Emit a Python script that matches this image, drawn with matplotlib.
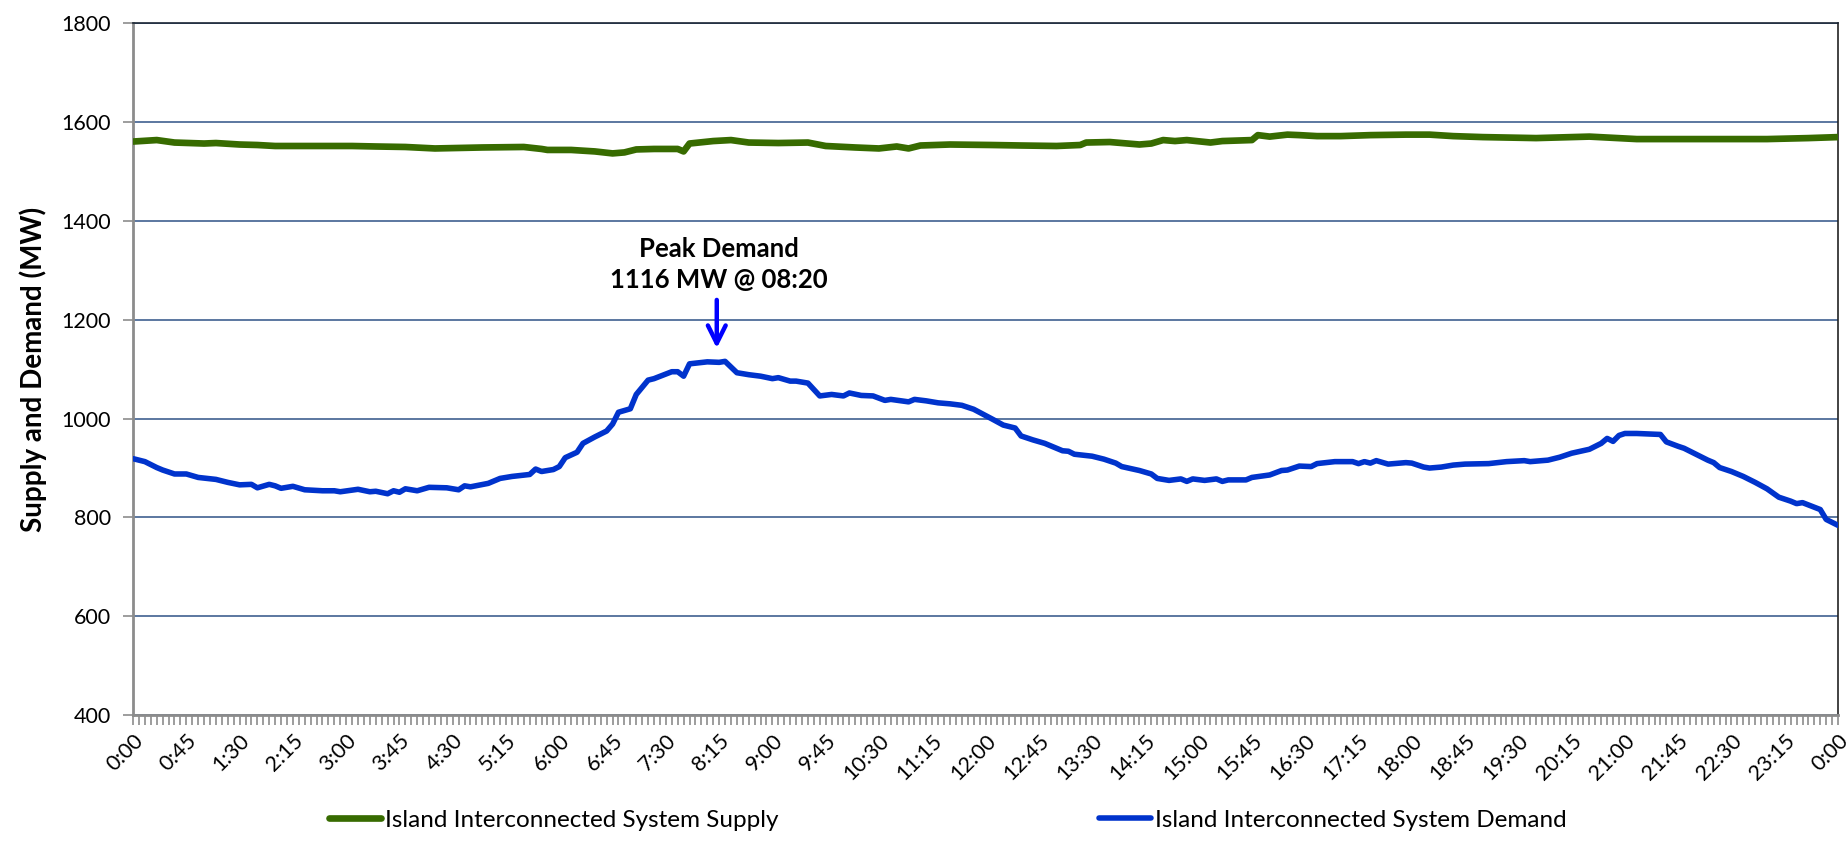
import matplotlib
matplotlib.use("Agg")
import matplotlib.pyplot as plt

plt.rcParams['font.family'] = ['Lato', 'DejaVu Sans']

# time of reading (H:MM) and MW
supply_times = ["0:00", "0:20", "0:35", "1:00", "1:10", "1:30", "1:45", "2:00", "3:05", "3:25",
                "3:50", "4:15", "4:55", "5:30", "5:45", "5:50", "6:10", "6:30", "6:45", "6:55",
                "7:05", "7:20", "7:40", "7:45", "7:50", "8:10", "8:25", "8:40", "9:05", "9:30",
                "9:45", "10:10", "10:30", "10:45", "10:55", "11:05", "11:30", "12:05", "12:30", "13:00",
                "13:20", "13:25", "13:45", "14:10", "14:20", "14:30", "14:40", "14:50", "15:10", "15:20",
                "15:45", "15:50", "16:00", "16:15", "16:25", "16:40", "17:00", "17:25", "17:55", "18:15",
                "18:35", "19:00", "19:45", "20:30", "21:10", "21:45", "22:25", "23:00", "23:35", "24:00"]
supply_mw = [1561, 1564, 1559, 1557, 1558, 1555, 1554, 1552, 1552, 1551,
             1550, 1547, 1549, 1550, 1546, 1544, 1544, 1541, 1537, 1539,
             1545, 1546, 1546, 1541, 1557, 1562, 1564, 1559, 1558, 1559,
             1552, 1549, 1547, 1551, 1547, 1553, 1555, 1554, 1553, 1552,
             1554, 1559, 1560, 1555, 1557, 1564, 1562, 1564, 1559, 1562,
             1564, 1574, 1571, 1575, 1574, 1572, 1572, 1574, 1575, 1575,
             1572, 1570, 1568, 1571, 1566, 1566, 1566, 1566, 1568, 1570]

demand_times = ["0:00", "0:10", "0:20", "0:25", "0:35", "0:45", "0:55", "1:10", "1:20", "1:30",
                "1:40", "1:45", "1:55", "2:00", "2:05", "2:15", "2:25", "2:40", "2:50", "2:55",
                "3:10", "3:20", "3:25", "3:35", "3:40", "3:45", "3:50", "4:00", "4:10", "4:25",
                "4:35", "4:40", "4:45", "5:00", "5:10", "5:20", "5:35", "5:40", "5:45", "5:55",
                "6:00", "6:05", "6:15", "6:20", "6:30", "6:40", "6:45", "6:50", "7:00", "7:05",
                "7:15", "7:20", "7:35", "7:40", "7:45", "7:50", "8:05", "8:15", "8:20", "8:30",
                "8:40", "8:50", "9:00", "9:05", "9:15", "9:20", "9:30", "9:40", "9:50", "10:00",
                "10:05", "10:15", "10:25", "10:35", "10:40", "10:55", "11:00", "11:10", "11:20", "11:30",
                "11:40", "11:50", "12:05", "12:15", "12:25", "12:30", "12:40", "12:50", "13:00", "13:05",
                "13:10", "13:15", "13:30", "13:40", "13:50", "13:55", "14:10", "14:20", "14:25", "14:35",
                "14:45", "14:50", "14:55", "15:05", "15:15", "15:20", "15:25", "15:40", "15:45", "16:00",
                "16:10", "16:15", "16:25", "16:35", "16:40", "16:55", "17:10", "17:15", "17:20", "17:25",
                "17:30", "17:40", "17:55", "18:00", "18:10", "18:15", "18:25", "18:35", "18:45", "19:05",
                "19:20", "19:35", "19:40", "19:55", "20:05", "20:15", "20:30", "20:40", "20:45", "20:50",
                "20:55", "21:00", "21:10", "21:20", "21:30", "21:35", "21:45", "21:50", "22:00", "22:10",
                "22:15", "22:20", "22:30", "22:40", "22:50", "23:00", "23:10", "23:20", "23:25", "23:30",
                "23:45", "23:50", "24:00"]
demand_mw = [919, 913, 901, 896, 888, 888, 881, 877, 871, 866,
             867, 860, 867, 864, 859, 863, 856, 854, 854, 852,
             857, 852, 853, 848, 854, 851, 858, 854, 861, 860,
             856, 864, 862, 869, 879, 883, 887, 898, 893, 897,
             903, 921, 932, 950, 963, 975, 989, 1013, 1020, 1049,
             1078, 1081, 1095, 1095, 1086, 1111, 1115, 1114, 1116, 1093,
             1089, 1086, 1081, 1083, 1076, 1076, 1072, 1046, 1049, 1046,
             1052, 1047, 1046, 1037, 1039, 1034, 1039, 1036, 1032, 1030,
             1027, 1019, 1000, 987, 981, 965, 957, 950, 940, 935,
             934, 928, 924, 918, 910, 903, 895, 888, 879, 875,
             878, 873, 878, 875, 878, 873, 876, 876, 881, 886,
             895, 896, 904, 903, 909, 913, 913, 909, 913, 910,
             915, 908, 911, 910, 902, 900, 902, 906, 908, 909,
             913, 915, 913, 916, 922, 930, 938, 950, 960, 954,
             966, 970, 970, 969, 968, 953, 944, 940, 928, 916,
             911, 901, 893, 883, 871, 858, 841, 833, 828, 830,
             816, 796, 784]

tick_labels = ["0:00", "0:45", "1:30", "2:15", "3:00", "3:45", "4:30", "5:15", "6:00", "6:45",
               "7:30", "8:15", "9:00", "9:45", "10:30", "11:15", "12:00", "12:45", "13:30", "14:15",
               "15:00", "15:45", "16:30", "17:15", "18:00", "18:45", "19:30", "20:15", "21:00", "21:45",
               "22:30", "23:15", "0:00"]


def to_min(t):
    h, m = t.split(":")
    return int(h) * 60 + int(m)


supply_x = [to_min(t) for t in supply_times]
demand_x = [to_min(t) for t in demand_times]

fig = plt.figure(figsize=(18.48, 8.42), dpi=100)
ax = fig.add_axes([0.072, 0.1508, 0.9226, 0.8213])

ax.plot(supply_x, supply_mw, color='#376b00', lw=4.8, solid_capstyle='round',
        solid_joinstyle='round', label='Island Interconnected System Supply', zorder=3)
ax.plot(demand_x, demand_mw, color='#0033cc', lw=4.0, solid_capstyle='round',
        solid_joinstyle='round', label='Island Interconnected System Demand', zorder=3)

ax.set_xlim(0, 1440)
ax.set_ylim(400, 1800)
ax.set_yticks(range(400, 1801, 200))
ax.yaxis.grid(True, color='#3f6090', lw=1.2)
ax.set_axisbelow(True)

ax.set_xticks(range(0, 1441, 45))
ax.set_xticklabels(tick_labels, rotation=45, ha='right', rotation_mode='anchor')
ax.set_xticks(range(0, 1441, 5), minor=True)
ax.tick_params(axis='x', which='both', length=7, width=1.2, color='#8c8c8c', pad=4)
ax.tick_params(axis='y', length=7, width=1.2, color='#8c8c8c', pad=9)
ax.tick_params(labelsize=15.5)

for s in ['left', 'bottom']:
    ax.spines[s].set_color('#8c8c8c')
    ax.spines[s].set_linewidth(2)
ax.spines['top'].set_color('#1a2533')
ax.spines['top'].set_linewidth(1.2)
ax.spines['right'].set_color('#222222')
ax.spines['right'].set_linewidth(1.2)

ax.set_ylabel('Supply and Demand (MW)', fontsize=20, fontweight='bold', labelpad=10)

ax.annotate('', xy=(493, 1137), xytext=(493, 1246),
            arrowprops=dict(arrowstyle='->', lw=3.2, color='#0000ff', mutation_scale=32))
ax.text(495, 1313, 'Peak Demand\n1116 MW @ 08:20', ha='center', va='center',
        fontsize=18.5, fontweight='bold', linespacing=1.35)

fig.legend(loc='center left', bbox_to_anchor=(0.178, 0.026), ncol=2, frameon=False,
           fontsize=17.5, handlelength=2.15, handletextpad=0.15, columnspacing=13.2,
           borderpad=0, borderaxespad=0)

fig.savefig('out.png', dpi=100)
